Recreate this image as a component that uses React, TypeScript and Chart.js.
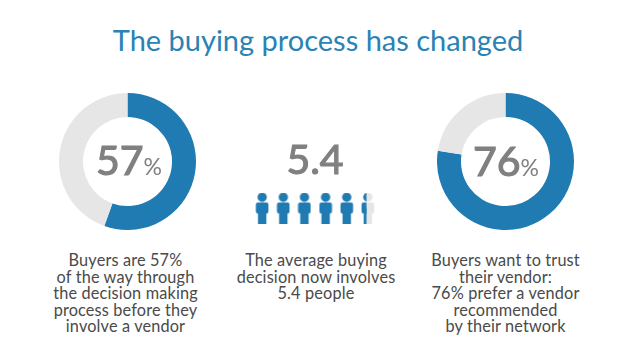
import React, { useEffect, useRef } from "react";
import { Chart, registerables } from "chart.js";

Chart.register(...registerables);

const BLUE = "#1f7bb2";
const LIGHT = "#e6e6e6";
const GREY = "#808080";

const title = "The buying process has changed";
const leftArc = [55.5, 44.5];
const rightArc = [77.5, 22.5];
const personPositions = [0, 1, 2, 3, 4, 5];
const personFill = [1, 1, 1, 1, 1, 0.4];
const leftCaption = ["Buyers are 57%", "of the way through", "the decision making", "process before they", "involve a vendor"];
const middleCaption = ["The average buying", "decision now involves", "5.4 people"];
const rightCaption = ["Buyers want to trust", "their vendor:", "76% prefer a vendor", "recommended", "by their network"];

function personIcon(fraction: number): HTMLCanvasElement {
  const c = document.createElement("canvas");
  c.width = 14;
  c.height = 31;
  const g = c.getContext("2d")!;
  const shape = (color: string) => {
    g.fillStyle = color;
    g.beginPath();
    g.arc(7, 4.7, 4.7, 0, Math.PI * 2);
    g.fill();
    g.beginPath();
    g.roundRect(0.7, 10, 12.6, 11, 2);
    g.fill();
    g.fillRect(2.8, 15, 8.4, 16);
  };
  shape(fraction < 1 ? LIGHT : BLUE);
  if (fraction < 1) {
    g.save();
    g.beginPath();
    g.rect(0, 0, 14 * fraction, 31);
    g.clip();
    shape(BLUE);
    g.restore();
  }
  return c;
}

function Donut({ values, left, top, size }: { values: number[]; left: number; top: number; size: number }) {
  const ref = useRef<HTMLCanvasElement>(null);
  useEffect(() => {
    const chart = new Chart(ref.current!, {
      type: "doughnut",
      data: { labels: ["Share", "Rest"], datasets: [{ data: values, backgroundColor: [BLUE, LIGHT], borderWidth: 0 }] },
      options: {
        animation: false,
        responsive: false,
        cutout: "65%",
        layout: { padding: 0 },
        plugins: { legend: { display: false }, tooltip: { enabled: false } },
      },
    });
    return () => chart.destroy();
  }, []);
  return <canvas ref={ref} width={size} height={size} style={{ position: "absolute", left, top, width: size, height: size }} />;
}

function People() {
  const ref = useRef<HTMLCanvasElement>(null);
  useEffect(() => {
    const chart = new Chart(ref.current!, {
      type: "scatter",
      data: {
        datasets: [
          {
            data: personPositions.map((x) => ({ x, y: 0.5 })),
            pointStyle: personFill.map(personIcon),
            pointRadius: 10,
          },
        ],
      },
      options: {
        animation: false,
        responsive: false,
        layout: { padding: 0, autoPadding: false },
        scales: {
          x: { display: false, min: -1, max: 6 },
          y: { display: false, min: 0, max: 1 },
        },
        plugins: { legend: { display: false }, tooltip: { enabled: false } },
      },
    });
    return () => chart.destroy();
  }, []);
  return <canvas ref={ref} width={148} height={50} style={{ position: "absolute", left: 241, top: 183, width: 148, height: 50 }} />;
}

function Caption({ lines, center }: { lines: string[]; center: number }) {
  return (
    <div style={{ position: "absolute", left: center - 100, width: 200, top: 252, textAlign: "center", fontSize: 16.3, lineHeight: "16.6px", letterSpacing: 0.15, color: "#4a4a4a" }}>
      {lines.map((l) => (
        <div key={l}>{l}</div>
      ))}
    </div>
  );
}

function Big({ value, unit, cx, cy }: { value: string; unit: string; cx: number; cy: number }) {
  return (
    <div style={{ position: "absolute", left: cx - 70, width: 140, top: cy - 30, height: 60, lineHeight: "60px", textAlign: "center", color: GREY, fontWeight: 400, WebkitTextStroke: "1.2px #808080", fontSize: 41, whiteSpace: "nowrap" }}>
      {value}
      {unit && <span style={{ fontSize: 23, fontWeight: 400, WebkitTextStroke: "0" }}>{unit}</span>}
    </div>
  );
}

export default function App() {
  useEffect(() => {
    document.body.style.margin = "0";
    document.body.style.background = "#fff";
  }, []);
  return (
    <div style={{ position: "relative", width: 624, height: 358, overflow: "hidden", background: "#fff", fontFamily: "Lato, sans-serif" }}>
      <div style={{ position: "absolute", left: 0, width: 636, top: 22, textAlign: "center", fontSize: 29, lineHeight: "36px", color: "#2a82b5" }}>{title}</div>
      <Donut values={leftArc} left={59} top={93} size={137} />
      <Donut values={rightArc} left={437} top={93} size={137} />
      <People />
      <Big value="57" unit="%" cx={129} cy={160} />
      <Big value="5.4" unit="" cx={315} cy={159} />
      <Big value="76" unit="%" cx={506} cy={161} />
      <Caption lines={leftCaption} center={125.5} />
      <Caption lines={middleCaption} center={316} />
      <Caption lines={rightCaption} center={505.5} />
    </div>
  );
}
